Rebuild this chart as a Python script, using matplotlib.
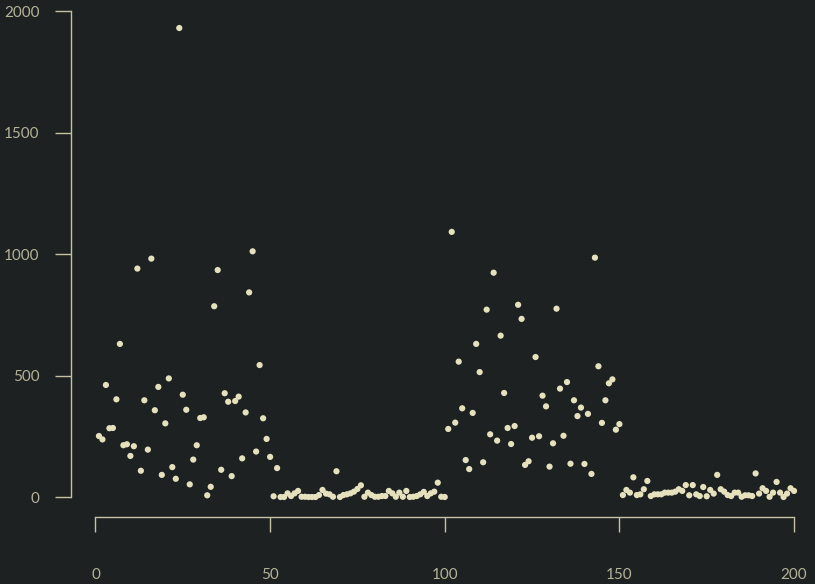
import matplotlib
matplotlib.use('Agg')
import matplotlib.pyplot as plt
import numpy as np

# values, index 1..200
vals_1_50 = [251, 237, 461, 283, 284, 402, 630, 213, 217, 169,
             209, 940, 108, 398, 195, 981, 357, 453, 91, 303,
             488, 123, 75, 1930, 421, 359, 52, 154, 213, 325,
             328, 7, 42, 785, 934, 112, 427, 392, 86, 395,
             413, 159, 348, 842, 1011, 187, 543, 324, 239, 165]
vals_51_100 = [3, 119, 0, 0, 15, 4, 15, 25, 1, 1,
               0, 0, 0, 8, 29, 14, 11, 1, 106, 0,
               8, 11, 15, 22, 33, 48, 1, 18, 8, 1,
               1, 4, 4, 25, 15, 1, 18, 1, 25, 0,
               1, 4, 11, 21, 4, 15, 22, 59, 1, 0]
vals_101_150 = [280, 1091, 306, 557, 365, 152, 115, 346, 630, 514,
                143, 771, 258, 923, 232, 664, 428, 284, 218, 292,
                791, 733, 132, 147, 244, 576, 250, 417, 373, 125,
                221, 775, 446, 252, 473, 137, 398, 333, 368, 136,
                342, 95, 985, 538, 305, 398, 468, 484, 277, 300]
vals_151_200 = [8, 29, 18, 81, 8, 11, 32, 66, 4, 11,
                11, 11, 18, 18, 18, 22, 32, 25, 49, 7,
                49, 11, 4, 41, 3, 29, 14, 91, 32, 22,
                8, 4, 18, 18, 1, 7, 7, 4, 97, 14,
                36, 25, 1, 18, 62, 18, 0, 14, 36, 25]

values = vals_1_50 + vals_51_100 + vals_101_150 + vals_151_200
index = list(range(1, len(values) + 1))

x_ticks = [0, 50, 100, 150, 200]
y_ticks = [0, 500, 1000, 1500, 2000]

bg = '#1d2122'
point_col = '#e6e1bd'
axis_col = '#c4c2a2'
text_col = '#b4b298'

plt.rcParams['font.family'] = ['Lato', 'DejaVu Sans']

W, H = 815, 584
fig = plt.figure(figsize=(W / 100, H / 100), dpi=100, facecolor=bg)
ax = fig.add_axes([71 / W, (H - 517) / H, 740.5 / W, (517 - 11) / H])
ax.set_facecolor(bg)

ax.scatter(index, values, s=20, color=point_col, edgecolors='none', clip_on=False, zorder=3)

ax.set_xlim(-7, 205)
ax.set_ylim(-82.3, 2000)

for side in ['top', 'right']:
    ax.spines[side].set_visible(False)
ax.spines['left'].set_bounds(0, 2000)
ax.spines['bottom'].set_bounds(0, 200)
for side in ['left', 'bottom']:
    ax.spines[side].set_color(axis_col)
    ax.spines[side].set_linewidth(1.0)

ax.set_xticks(x_ticks)
ax.set_yticks(y_ticks)
ax.set_xticklabels([str(t) for t in x_ticks])
ax.set_yticklabels([str(t) for t in y_ticks])
ax.tick_params(axis='x', length=11, width=1.0, color=axis_col, labelcolor=text_col,
               labelsize=11, pad=26)
ax.tick_params(axis='y', length=11.5, width=1.0, color=axis_col, labelcolor=text_col,
               labelsize=11, pad=11)

fig.savefig('out.png', dpi=100, facecolor=bg)
